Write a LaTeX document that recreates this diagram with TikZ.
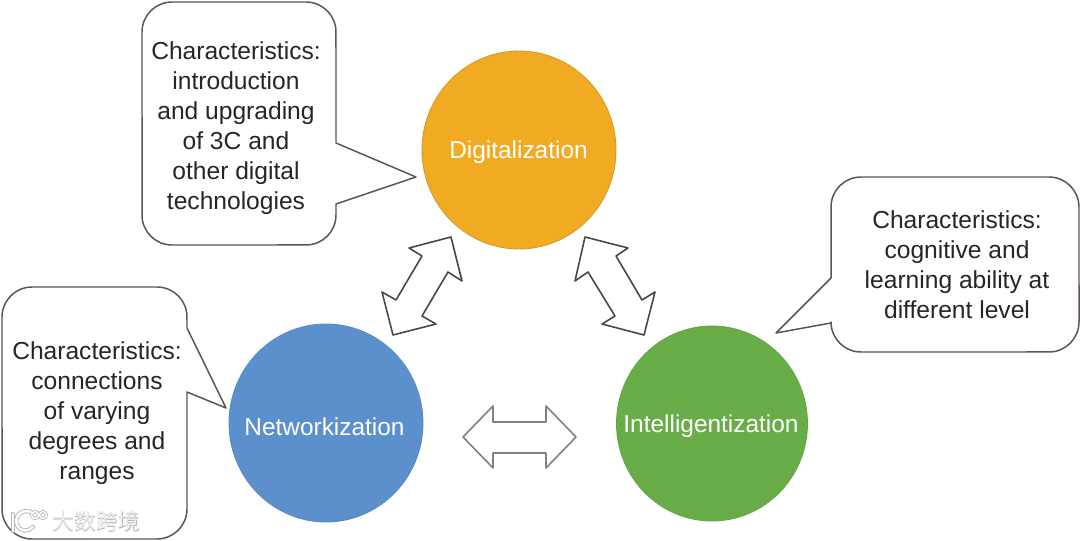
\documentclass[tikz,border=0pt]{standalone}
\usepackage{fontspec}
\setmainfont{Liberation Sans}
\newfontfamily\cjkfont{Noto Sans CJK SC}

\definecolor{digitalcolor}{HTML}{F0AB23}
\definecolor{networkcolor}{HTML}{5C90CD}
\definecolor{intelcolor}{HTML}{68AD47}
\definecolor{outlinecolor}{HTML}{5A5654}
\definecolor{marktext}{HTML}{EDEDED}
\definecolor{markshade}{HTML}{B4B4B4}

\begin{document}
\begin{tikzpicture}[
    x=0.02cm,
    y=-0.02cm,
    line cap=round,
    line join=round,
    ball/.style={line width=0.5pt},
    balltext/.style={anchor=base,text=white,font=\fontsize{13.9}{16}\selectfont},
    callout/.style={draw=outlinecolor,fill=white,line width=0.85pt},
    callouttext/.style={text=black!85,align=center,font=\fontsize{14}{17}\selectfont},
    bigarrow/.style={draw=black!72,fill=white,line width=0.9pt},
    flatarrow/.style={draw=black!50,fill=white,line width=0.9pt},
    marktextstyle/.style={font=\cjkfont\fontsize{12.5}{14}\selectfont}
]

% =========================================================
% Parameters
% =========================================================

\def\rad{0.6cm}   % corner of the callouts

\useasboundingbox (0,0) rectangle (1080,541);

% =========================================================
% Circles
% =========================================================

\draw[ball,draw=digitalcolor!90!black,fill=digitalcolor] (519,150) ellipse (1.94cm and 1.98cm);
\draw[ball,draw=networkcolor!96!black,fill=networkcolor] (326,423) ellipse (1.94cm and 1.98cm);
\draw[ball,draw=intelcolor!96!black,fill=intelcolor] (712,423.5) ellipse (1.91cm and 1.95cm);

\node[balltext] (digital) at (518.5,158) {Digitalization};
\node[balltext] (network) at (324.5,435) {Networkization};
\node[balltext] (intel) at (711,432) {Intelligentization};

% =========================================================
% Double arrows
% =========================================================

\draw[bigarrow] (451,237)--(409,248)--(422,256)--(396,300)--(382,292)--(393,335)
    --(436,324)--(422,316)--(448,272)--(462,281)--cycle;
\draw[bigarrow] (585,237)--(628,248)--(616,256)--(642,300)--(655,292)--(644,335)
    --(602,324)--(615,316)--(588,272)--(575,281)--cycle;
\draw[flatarrow] (463,437)--(493,406)--(493,422)--(546,422)--(546,406)--(576,437)
    --(546,468)--(546,453)--(493,453)--(493,468)--cycle;

% =========================================================
% Callouts
% =========================================================

\draw[callout] (172,2)--(306,2) arc[start angle=90,end angle=0,radius=\rad]
    --(336,143)--(416,177)--(336,204)--(336,215) arc[start angle=0,end angle=-90,radius=\rad]
    --(172,245) arc[start angle=-90,end angle=-180,radius=\rad]
    --(142,32) arc[start angle=180,end angle=90,radius=\rad]--cycle;

\draw[callout] (861,177)--(1049,177) arc[start angle=90,end angle=0,radius=\rad]
    --(1079,322) arc[start angle=0,end angle=-90,radius=\rad]
    --(861,352) arc[start angle=-90,end angle=-180,radius=\rad]
    --(831,323)--(776,333)--(831,278)--(831,207) arc[start angle=180,end angle=90,radius=\rad]--cycle;

\draw[callout] (32,287)--(157,287) arc[start angle=90,end angle=0,radius=\rad]
    --(187,328)--(226,408)--(187,392)--(187,509) arc[start angle=0,end angle=-90,radius=\rad]
    --(32,539) arc[start angle=-90,end angle=-180,radius=\rad]
    --(2,317) arc[start angle=180,end angle=90,radius=\rad]--cycle;

\node[callouttext] (digitaltext) at (236,128) {Characteristics:\\introduction\\and upgrading\\of 3C and\\other digital\\technologies};
\node[callouttext] (inteltext) at (957,265) {Characteristics:\\cognitive and\\learning ability at\\different level};
\node[callouttext] (networktext) at (97,413) {Characteristics:\\connections\\of varying\\degrees and\\ranges};

% =========================================================
% Watermark
% =========================================================

\draw[markshade,line width=2.4pt] (13,514)--(13,531);
\draw[markshade,line width=2.4pt] (31,512) .. controls (20,508) and (14,518) .. (17,525)
    .. controls (20,532) and (28,532) .. (33,527);
\draw[markshade,line width=1.7pt] (35,515) circle (0.07cm) (43,515) circle (0.07cm);
\draw[white,line width=1.4pt] (13,514)--(13,531);
\draw[white,line width=1.4pt] (31,512) .. controls (20,508) and (14,518) .. (17,525)
    .. controls (20,532) and (28,532) .. (33,527);
\draw[white,line width=0.8pt] (35,515) circle (0.07cm) (43,515) circle (0.07cm);

\node[marktextstyle,text=markshade] (markshadow) at (96.8,521.8) {大数跨境};
\node[marktextstyle,text=marktext] (mark) at (96,521) {大数跨境};

\end{tikzpicture}
\end{document}
